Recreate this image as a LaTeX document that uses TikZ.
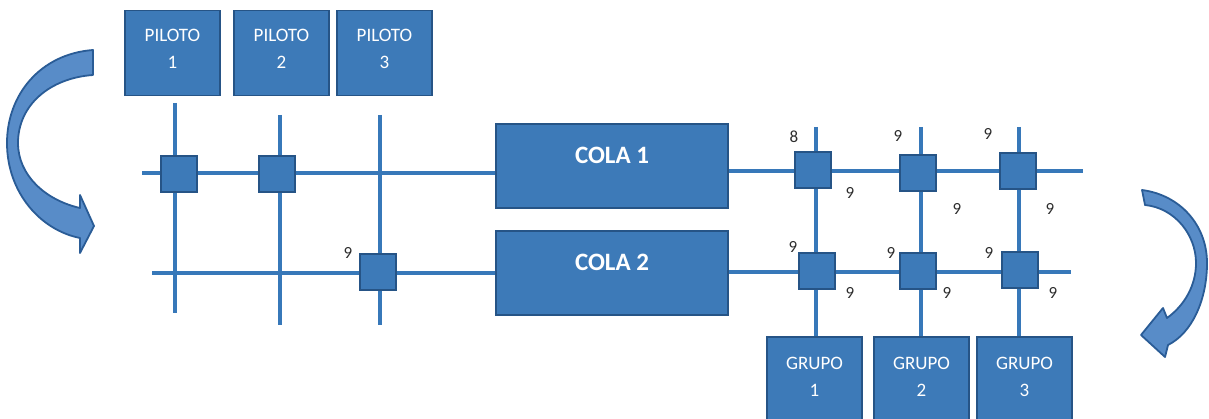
\documentclass[tikz,border=0pt]{standalone}
\usepackage{fontspec}
\setmainfont{Carlito}
\pgfdeclarelayer{bg}
\pgfsetlayers{bg,main}
\definecolor{boxfill}{RGB}{61,122,184}
\definecolor{boxdraw}{RGB}{38,84,134}
\definecolor{linecol}{RGB}{55,120,185}
\definecolor{arrfill}{RGB}{88,140,200}
\definecolor{arrdraw}{RGB}{42,92,150}
\definecolor{numcol}{RGB}{45,45,45}
\newcommand{\twoline}[2]{\begin{tabular}[b]{@{}c@{}}#1\\#2\end{tabular}\rule[-15pt]{0pt}{0pt}}
\begin{document}
\begin{tikzpicture}[x=1pt,y=-1pt,
  box/.style={draw=boxdraw, line width=1.2pt, fill=boxfill, text=white, inner sep=0pt},
  pilbox/.style={box, minimum width=95pt, minimum height=85pt, font=\fontsize{19}{27}\selectfont},
  colabox/.style={box, minimum width=232pt, minimum height=84pt, font=\fontsize{25}{28}\selectfont\bfseries, text height=16pt, text depth=20pt},
  sq/.style={box, minimum width=36pt, minimum height=36pt},
  ln/.style={draw=linecol, line width=3.5pt},
  arr/.style={draw=arrdraw, line width=1.8pt, fill=arrfill, line join=round},
  num/.style={text=numcol, font=\fontsize{17}{18}\selectfont, inner sep=0pt}]
\useasboundingbox (0,0) rectangle (1209,419);
\clip (0,0) rectangle (1209,419);

% top boxes
\node[pilbox] (p1) at (172.5,53) {\twoline{PILOTO}{1}};
\node[pilbox] (p2) at (281.5,53) {\twoline{PILOTO}{2}};
\node[pilbox] (p3) at (384.5,53) {\twoline{PILOTO}{3}};

% queues
\node[colabox] (c1) at (612,166) {COLA 1};
\node[colabox] (c2) at (612,273) {COLA 2};

% bottom boxes
\node[pilbox, minimum height=88pt] (g1) at (814.5,381) {\twoline{GRUPO}{1}};
\node[pilbox, minimum height=88pt] (g2) at (921.5,381) {\twoline{GRUPO}{2}};
\node[pilbox, minimum height=88pt] (g3) at (1024.5,381) {\twoline{GRUPO}{3}};

% crossing squares
\node[sq] (a1) at (179,174) {};
\node[sq] (a2) at (277,174) {};
\node[sq] (a3) at (378,272) {};
\node[sq] (b1) at (813,170) {};
\node[sq] (b2) at (918,173) {};
\node[sq] (b3) at (1018,171) {};
\node[sq] (d1) at (817,271) {};
\node[sq] (d2) at (918,271) {};
\node[sq] (d3) at (1020,270) {};

% line end coordinates
\coordinate (h1s) at (142,173);
\coordinate (h1b) at (728,171);
\coordinate (h1e) at (1083,171);
\coordinate (h2s) at (152,273);
\coordinate (h2b) at (728,272);
\coordinate (h2e) at (1071,272);
\coordinate (v1s) at (175,103);
\coordinate (v1e) at (175,313);
\coordinate (v2s) at (280,115);
\coordinate (v2e) at (280,325);
\coordinate (v3s) at (380,115);
\coordinate (v3e) at (380,325);
\coordinate (w1s) at (816,127);
\coordinate (w2s) at (921,127);
\coordinate (w3s) at (1019,127);

\begin{pgfonlayer}{bg}
  \draw[ln] (h1s) -- (h1s -| c1.west);
  \draw[ln] (h1b -| c1.east) -- (h1e);
  \draw[ln] (h2s) -- (h2s -| c2.west);
  \draw[ln] (h2b -| c2.east) -- (h2e);
  \draw[ln] (v1s) -- (v1e);
  \draw[ln] (v2s) -- (v2e);
  \draw[ln] (v3s) -- (v3e);
  \draw[ln] (w1s) -- (w1s |- g1.north);
  \draw[ln] (w2s) -- (w2s |- g2.north);
  \draw[ln] (w3s) -- (w3s |- g3.north);
\end{pgfonlayer}

% numbers
\node[num] (n1) at (794,137) {8};
\node[num] (n2) at (898,136) {9};
\node[num] (n3) at (988,134) {9};
\node[num] (n4) at (850,193) {9};
\node[num] (n5) at (957,209) {9};
\node[num] (n6) at (1050,209) {9};
\node[num] (n7) at (793,247) {9};
\node[num] (n8) at (891,253) {9};
\node[num] (n9) at (989,253) {9};
\node[num] (n10) at (850,293) {9};
\node[num] (n11) at (947,293) {9};
\node[num] (n12) at (1053,293) {9};
\node[num] (n13) at (348,253) {9};

% curved arrows
\draw[arr] (93,50) .. controls (40,54) and (7,95) .. (7,143)
  .. controls (7,192) and (40,230) .. (80,238) -- (80,253) -- (94,226) -- (80,195) -- (80,208)
  .. controls (45,200) and (18,175) .. (18,143)
  .. controls (18,105) and (50,78) .. (93,75) -- cycle;
\draw[arr] (1142,190) .. controls (1180,195) and (1207,225) .. (1207,263)
  .. controls (1207,300) and (1192,333) .. (1168,345) -- (1165,357) -- (1141,335) -- (1163,308) -- (1167,318)
  .. controls (1185,305) and (1196,285) .. (1196,263)
  .. controls (1196,235) and (1175,208) .. (1145,205) -- cycle;
\end{tikzpicture}
\end{document}
